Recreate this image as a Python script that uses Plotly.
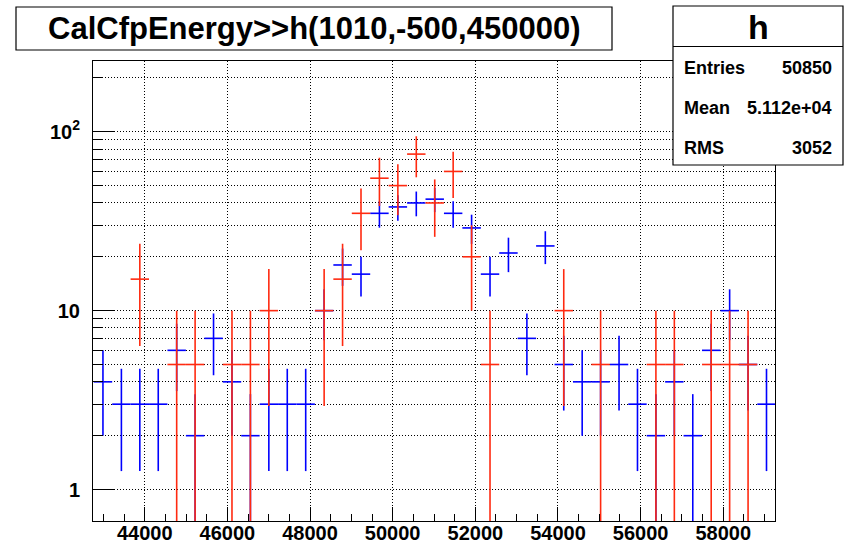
import numpy as np
import plotly.graph_objects as go

# ---- histogram definition h(1010,-500,450000) ----
n_bins = 1010
x_low = -500.0
x_high = 450000.0
first_bin = 97          # first bin index shown in the zoomed x-range

# ---- bin contents (bins 97..133) ----
blue_counts = [4, 3, 3, 3, 6, 2, 7, 4, 2, 3, 3, 3, 10, 18, 16, 35, 38, 40, 42, 35,
               29, 16, 21, 7, 23, 5, 4, 4, 5, 3, 2, 4, 2, 6, 10, 5, 3]
red_values = [0, 0, 15, 0, 5, 5, 0, 5, 5, 10, 0, 0, 10, 15, 35, 55, 50, 75, 40, 60,
              20, 5, 0, 0, 0, 10, 0, 5, 0, 0, 5, 5, 0, 5, 5, 5, 0]
red_weight = 5.0

# ---- text ----
title_text = "CalCfpEnergy>>h(1010,-500,450000)"
stats_name = "h"
stats_rows = [("Entries", "50850"), ("Mean", "5.112e+04"), ("RMS", "3052")]
x_tick_vals = [44000, 46000, 48000, 50000, 52000, 54000, 56000, 58000]
x_tick_text = ["44000", "46000", "48000", "50000", "52000", "54000", "56000", "58000"]
y_major_vals = [1, 10, 100]
y_major_text = ["1", "10", "10<sup>2</sup>"]

# ---- derived ----
bw = (x_high - x_low) / n_bins
idx = np.arange(first_bin, first_bin + len(blue_counts))
centers = x_low + (idx + 0.5) * bw

blue = np.array(blue_counts, dtype=float)
blue_err = np.sqrt(blue)
red = np.array(red_values, dtype=float)
red_err = np.sqrt(red * red_weight)
floor = 0.05
def lower(v, e):
    return np.minimum(e, v - floor)

W, H = 848, 544
ml, mr, mt, mb = 93, 73, 61, 23
pw, ph = W - ml - mr, H - mt - mb
def px(x): return (x - ml) / pw
def py(y): return 1 - (y - mt) / ph

FONT = "Liberation Sans, Arial, Helvetica, sans-serif"
DOT = "1px,2px"

fig = go.Figure()
fig.add_trace(go.Scatter(
    x=centers, y=blue, mode="markers", marker=dict(size=1, opacity=0, color="#0000ff"),
    error_x=dict(type="constant", value=bw / 2, width=0, color="#0000ff", thickness=1.6),
    error_y=dict(type="data", array=blue_err, arrayminus=lower(blue, blue_err),
                 symmetric=False, width=0, color="#0000ff", thickness=1.6),
    showlegend=False, hoverinfo="skip"))
m = red > 0
fig.add_trace(go.Scatter(
    x=centers[m], y=red[m], mode="markers", marker=dict(size=1, opacity=0, color="#ff0000"),
    error_x=dict(type="constant", value=bw / 2, width=0, color="#ff2a10", thickness=1.6),
    error_y=dict(type="data", array=red_err[m], arrayminus=lower(red[m], red_err[m]),
                 symmetric=False, width=0, color="#ff2a10", thickness=1.6),
    showlegend=False, hoverinfo="skip"))

y_minor = [v * d for d in (1, 10, 100) for v in range(2, 10) if v * d < 250]

fig.update_layout(
    template="none",
    width=W, height=H, margin=dict(l=ml, r=mr, t=mt, b=mb, pad=0, autoexpand=False),
    paper_bgcolor="white", plot_bgcolor="white",
    font=dict(family=FONT, color="black"),
    xaxis=dict(range=[42748, 59252], tickmode="array", tickvals=x_tick_vals,
               ticktext=x_tick_text, automargin=False,
               ticks="inside", ticklen=14, tickwidth=1, tickcolor="black",
               showline=True, linecolor="black", linewidth=1, mirror=True,
               showgrid=True, gridcolor="black", griddash=DOT, gridwidth=1,
               zeroline=False,
               tickfont=dict(family=FONT, size=20, weight="bold"),
               ticklabelstandoff=-6,
               minor=dict(dtick=500, tick0=0, ticks="inside", ticklen=7,
                          tickcolor="black", showgrid=False)),
    yaxis=dict(type="log", range=[np.log10(0.667), np.log10(248.6)],
               tickmode="array", tickvals=y_major_vals, ticktext=y_major_text,
               automargin=False,
               ticks="inside", ticklen=22, tickwidth=1, tickcolor="black",
               showline=True, linecolor="black", linewidth=1, mirror=True,
               showgrid=True, gridcolor="black", griddash=DOT, gridwidth=1,
               zeroline=False,
               tickfont=dict(family=FONT, size=20, weight="bold"),
               ticklabelstandoff=8,
               minor=dict(tickmode="array", tickvals=y_minor, ticks="inside",
                          ticklen=10, tickcolor="black", showgrid=True,
                          gridcolor="black", griddash=DOT, gridwidth=1)),
)

shapes = [
    dict(type="rect", xref="paper", yref="paper", x0=px(16), x1=px(612),
         y0=py(50), y1=py(7), line=dict(color="black", width=1.2),
         fillcolor="white", layer="above"),
    dict(type="rect", xref="paper", yref="paper", x0=px(673), x1=px(843),
         y0=py(165), y1=py(6), line=dict(color="black", width=1.2),
         fillcolor="white", layer="above"),
    dict(type="line", xref="paper", yref="paper", x0=px(673), x1=px(843),
         y0=py(46.5), y1=py(46.5), line=dict(color="black", width=1.2), layer="above"),
]
fig.update_layout(shapes=shapes)

ann = [
    dict(text="<b>%s</b>" % title_text, x=px(314), y=py(29), xref="paper", yref="paper",
         showarrow=False, xanchor="center", yanchor="middle",
         font=dict(family=FONT, size=31, color="black")),
    dict(text="<b>%s</b>" % stats_name, x=px(758), y=py(27), xref="paper", yref="paper",
         showarrow=False, xanchor="center", yanchor="middle",
         font=dict(family=FONT, size=34, color="black")),
]
for i, (k, v) in enumerate(stats_rows):
    yy = 68 + i * 40
    ann.append(dict(text="<b>%s</b>" % k, x=px(682), y=py(yy), xref="paper", yref="paper",
                    showarrow=False, xanchor="left", yanchor="middle",
                    font=dict(family=FONT, size=18, color="black")))
    ann.append(dict(text="<b>%s</b>" % v, x=px(834), y=py(yy), xref="paper", yref="paper",
                    showarrow=False, xanchor="right", yanchor="middle",
                    font=dict(family=FONT, size=18, color="black")))
fig.update_layout(annotations=ann)

fig.write_html("out.html", config={"displayModeBar": False},
               post_script="document.body.style.margin='0';document.body.style.overflow='hidden';")
